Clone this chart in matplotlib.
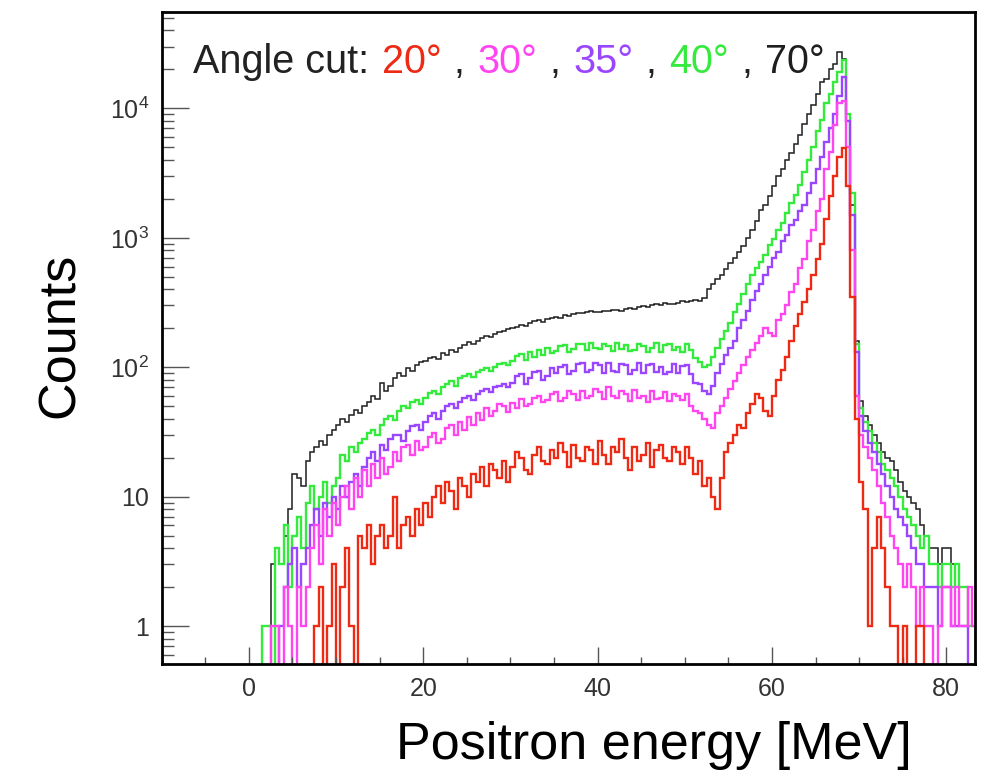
"""Positron energy spectra for several angle cuts (log counts), ROOT-style look."""
import numpy as np
import matplotlib
matplotlib.use("Agg")
import matplotlib.pyplot as plt
from matplotlib.ticker import LogLocator, NullFormatter

plt.rcParams["font.family"] = ["Liberation Sans", "DejaVu Sans"]
plt.rcParams["mathtext.fontset"] = "custom"
plt.rcParams["mathtext.rm"] = "Liberation Sans"
plt.rcParams["mathtext.it"] = "Liberation Sans:italic"

BIN_W = 0.5  # MeV, first bin starts at 0
# counts per 0.5 MeV bin from 0 to 84 MeV (10 bins = 5 MeV per row)
cut70 = [0, 0, 0, 0, 0, 3, 4, 3, 5, 8,
         15, 14, 12, 19, 22, 24, 27, 25, 30, 33,
         36, 40, 38, 43, 47, 44, 50, 54, 60, 57,
         76, 66, 72, 82, 90, 86, 98, 94, 104, 110,
         112, 118, 120, 116, 128, 124, 136, 132, 142, 148,
         156, 150, 160, 168, 174, 170, 182, 188, 190, 196,
         200, 206, 212, 208, 220, 226, 230, 224, 236, 242,
         246, 240, 252, 248, 258, 264, 262, 268, 270, 266,
         266, 272, 270, 278, 276, 270, 280, 286, 284, 290,
         298, 294, 302, 308, 304, 312, 310, 306, 316, 322,
         318, 326, 330, 324, 340, 400, 440, 480, 520, 570,
         640, 700, 780, 860, 1000, 1150, 1350, 1650, 1800, 2100,
         2500, 3000, 3400, 4000, 4500, 5300, 6200, 7600, 9000, 10700,
         13000, 16000, 17000, 20000, 22000, 27500, 24000, 8000, 1800, 160,
         55, 42, 36, 30, 26, 22, 20, 19, 16, 13,
         11, 10, 9, 8, 6, 5, 4, 4, 3, 4,
         4, 3, 2, 2, 2, 1, 1, 0]
cut40 = [0, 0, 0, 1, 1, 0, 4, 3, 6, 2,
         5, 7, 4, 9, 12, 8, 10, 13, 9, 12,
         14, 21, 19, 24, 22, 26, 28, 31, 33, 30,
         36, 40, 42, 39, 46, 50, 48, 54, 56, 52,
         58, 63, 66, 62, 70, 74, 78, 72, 82, 86,
         88, 84, 92, 96, 98, 94, 100, 106, 108, 104,
         112, 122, 126, 114, 130, 120, 136, 124, 140, 128,
         134, 146, 148, 132, 138, 152, 150, 136, 154, 140,
         138, 152, 146, 134, 154, 138, 148, 134, 136, 150,
         146, 132, 140, 154, 132, 148, 150, 136, 144, 130,
         150, 136, 118, 110, 100, 104, 120, 140, 165, 190,
         220, 265, 310, 370, 440, 520, 580, 650, 740, 880,
         980, 1150, 1300, 1550, 1850, 2150, 2550, 3200, 4000, 5000,
         6700, 8200, 11000, 13000, 16000, 19000, 23500, 9000, 2200, 150,
         48, 38, 32, 26, 22, 18, 16, 14, 12, 10,
         8, 7, 6, 5, 4, 5, 3, 3, 2, 3,
         3, 2, 3, 2, 2, 1, 1, 0]
cut35 = [0, 0, 0, 0, 0, 0, 0, 1, 2, 3,
         4, 2, 3, 4, 6, 8, 5, 9, 7, 10,
         8, 12, 10, 13, 15, 12, 17, 20, 22, 19,
         25, 23, 28, 30, 30, 27, 32, 35, 36, 33,
         38, 42, 44, 40, 46, 50, 52, 48, 54, 58,
         60, 56, 62, 66, 68, 64, 70, 72, 74, 70,
         76, 86, 88, 74, 82, 92, 94, 80, 86, 98,
         90, 100, 104, 88, 94, 106, 108, 92, 96, 108,
         104, 90, 108, 94, 92, 106, 104, 88, 96, 108,
         90, 104, 106, 92, 100, 88, 92, 106, 90, 102,
         104, 88, 76, 74, 66, 62, 72, 90, 105, 125,
         140, 160, 200, 230, 270, 330, 390, 440, 520, 590,
         700, 780, 950, 1050, 1250, 1380, 1600, 1800, 2200, 2650,
         3400, 4200, 5500, 7000, 9000, 12500, 17500, 8000, 1500, 130,
         42, 32, 26, 22, 18, 15, 12, 10, 8, 7,
         6, 5, 4, 3, 3, 2, 2, 2, 1, 2,
         2, 1, 1, 1, 1, 0, 0, 0]
cut30 = [0, 0, 0, 0, 0, 1, 1, 0, 2, 1,
         0, 2, 1, 2, 4, 6, 3, 8, 5, 9,
         6, 10, 12, 8, 14, 10, 16, 12, 18, 14,
         20, 15, 17, 22, 19, 24, 25, 21, 27, 23,
         24, 29, 31, 26, 28, 34, 36, 30, 38, 33,
         41, 36, 44, 39, 48, 42, 46, 52, 50, 45,
         53, 48, 57, 50, 52, 58, 60, 54, 56, 62,
         64, 55, 58, 66, 62, 56, 66, 58, 60, 68,
         64, 57, 70, 60, 58, 66, 62, 55, 67, 58,
         60, 54, 65, 57, 58, 64, 55, 62, 60, 56,
         62, 50, 46, 44, 40, 36, 34, 44, 50, 58,
         68, 78, 90, 104, 120, 135, 155, 175, 200, 185,
         175, 230, 260, 300, 380, 440, 580, 680, 950, 1150,
         1600, 2000, 3400, 4600, 7500, 11000, 11500, 5000, 800, 60,
         30, 24, 20, 16, 12, 9, 7, 5, 4, 3,
         2, 3, 2, 1, 2, 1, 1, 0, 1, 2,
         2, 1, 2, 1, 1, 2, 1, 0]
cut20 = [0, 0, 0, 0, 0, 0, 0, 0, 0, 0,
         0, 0, 0, 0, 0, 1, 2, 0, 1, 3,
         0, 2, 4, 1, 0, 5, 4, 6, 3, 5,
         6, 4, 5, 10, 4, 6, 7, 5, 8, 6,
         9, 7, 10, 12, 9, 13, 11, 8, 14, 12,
         10, 15, 13, 17, 12, 18, 16, 14, 19, 13,
         17, 22, 20, 16, 15, 21, 24, 19, 18, 23,
         20, 26, 22, 17, 25, 20, 19, 24, 23, 18,
         27, 21, 18, 24, 22, 28, 20, 16, 24, 19,
         21, 26, 17, 23, 25, 20, 19, 24, 22, 18,
         24, 20, 15, 19, 12, 14, 10, 8, 14, 22,
         26, 30, 36, 34, 44, 52, 62, 58, 46, 42,
         60, 80, 96, 120, 160, 210, 260, 320, 400, 520,
         680, 900, 1400, 2100, 3000, 4200, 4900, 2500, 350, 40,
         13, 8, 1, 4, 7, 4, 2, 1, 1, 0,
         1, 0, 0, 1, 1, 0, 0, 0, 0, 0,
         0, 0, 0, 0, 0, 0, 0, 0]

angles = ["20°", "30°", "35°", "40°", "70°"]
colors = ["#ee2a14", "#ff45ef", "#9a46ff", "#34ea3c", "#1e1e1e"]
series = [cut20, cut30, cut35, cut40, cut70]

fig = plt.figure(figsize=(9.85, 7.78), dpi=100)
ax = fig.add_axes([0.1642, 0.1465, 0.8257, 0.8377])

# black first, red on top
for vals, c in reversed(list(zip(series, colors))):
    v = np.asarray(vals, float)
    edges = np.arange(len(v) + 1) * BIN_W
    ax.stairs(np.where(v > 0, v, 1e-3), edges, color=c,
              lw=1.1 if c == colors[-1] else 1.7, baseline=None)

ax.set_yscale("log")
ax.set_xlim(-10, 83.3)
ax.set_ylim(0.5085, 55300)

ax.set_xticks([0, 20, 40, 60, 80])
ax.set_xticks(np.arange(-10, 85, 5), minor=True)
ax.set_yticks([1, 10, 100, 1000, 10000],
              labels=["1", "10", r"$10^{2}$", r"$10^{3}$", r"$10^{4}$"])
ax.yaxis.set_minor_locator(LogLocator(base=10, subs=np.arange(2, 10)))
ax.yaxis.set_minor_formatter(NullFormatter())
ax.tick_params(which="both", direction="in", color="#555555", width=1,
               labelcolor="#333333", labelsize=18)
ax.tick_params(axis="y", which="major", length=19.5, pad=9)
ax.tick_params(axis="y", which="minor", length=8.5)
ax.tick_params(axis="x", which="major", length=12, pad=9)
ax.tick_params(axis="x", which="minor", length=5)
for s in ax.spines.values():
    s.set_linewidth(2); s.set_color("black")

fig.text(60 / 985, 1 - 335 / 778, "Counts", rotation=90, fontsize=37.5,
         ha="center", va="center")
fig.text(912 / 985, 1 - 759 / 778, "Positron energy [MeV]", fontsize=37.5,
         ha="right", va="baseline")

# multi-coloured "Angle cut" line, pieces laid out one after another
renderer = fig.canvas.get_renderer()
parts = [("Angle cut:", "#222222")]
for i, (a, c) in enumerate(zip(angles, colors)):
    if i:
        parts.append((",", "#222222"))
    parts.append((a, c))
x, gap = 193.0, 12.5
for s, c in parts:
    t = fig.text(x / 985, 1 - 73.3 / 778, s, color=c, fontsize=28.5, va="baseline")
    x = t.get_window_extent(renderer).x1 + gap

fig.savefig("out.png", dpi=100)
